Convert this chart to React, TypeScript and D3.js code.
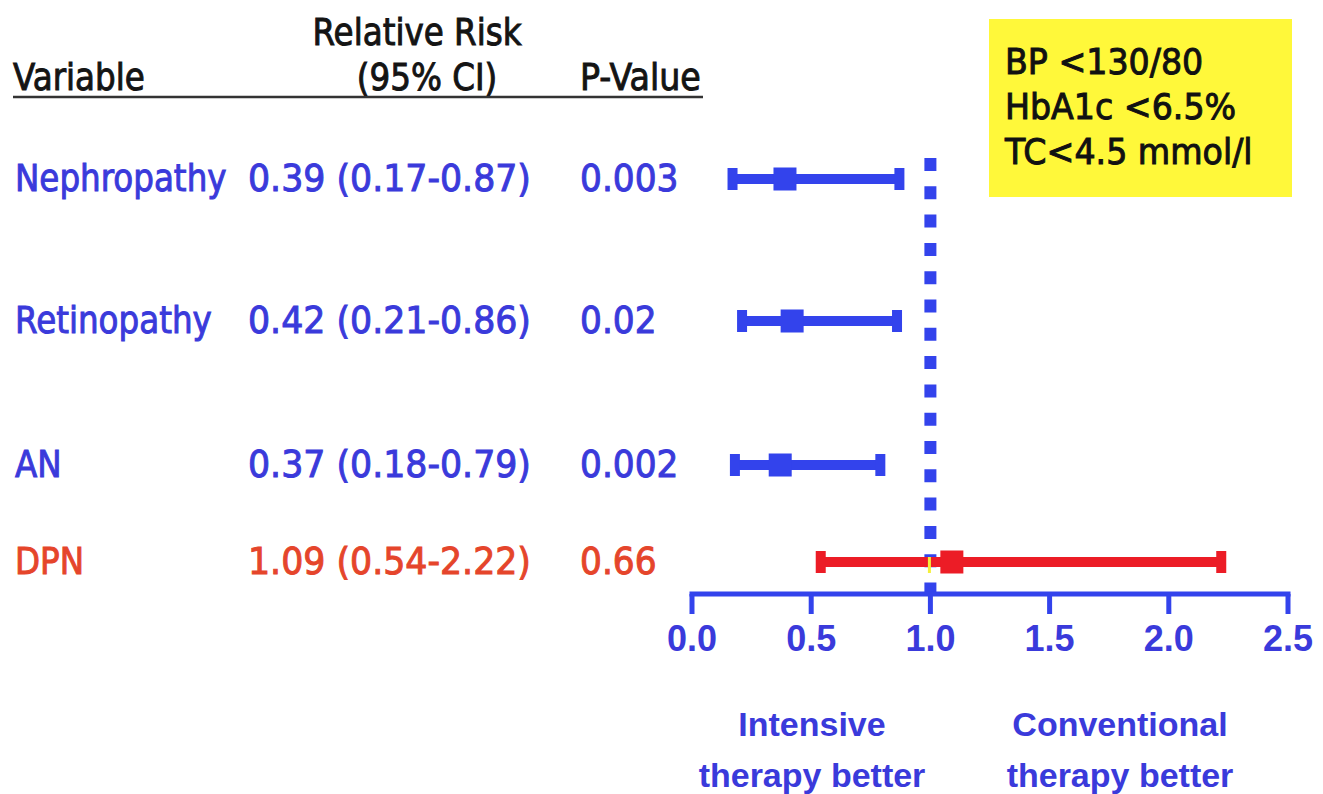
import React from "react";
import * as d3 from "d3";

const variables = ["Nephropathy", "Retinopathy", "AN", "DPN"];
const relativeRisk = [0.39, 0.42, 0.37, 1.09];
const ciLower = [0.17, 0.21, 0.18, 0.54];
const ciUpper = [0.87, 0.86, 0.79, 2.22];
const pValues = ["0.003", "0.02", "0.002", "0.66"];
const xTicks = [0, 0.5, 1.0, 1.5, 2.0, 2.5];
const criteria = ["BP <130/80", "HbA1c <6.5%", "TC<4.5 mmol/l"];
const favourLabels = [
  ["Intensive", "therapy better"],
  ["Conventional", "therapy better"],
];

const W = 1323;
const H = 794;
const BLUE_MARK = "#3343ec";
const BLUE_TEXT = "#3a3adb";
const RED_MARK = "#ec1c26";
const RED_TEXT = "#e5452b";
const TEXT_FONT = "'DejaVu Sans', Verdana, sans-serif";
const AXIS_FONT = "'Liberation Sans', Arial, sans-serif";

function CText(props: {
  x: number;
  y: number;
  sx?: number;
  size: number;
  fill: string;
  anchor?: "start" | "middle" | "end";
  children: React.ReactNode;
}) {
  const { x, y, sx = 0.88, size, fill, anchor = "start", children } = props;
  return (
    <text
      transform={`translate(${x},${y}) scale(${sx},1)`}
      fontFamily={TEXT_FONT}
      fontSize={size}
      fill={fill}
      stroke={fill}
      strokeWidth={1}
      textAnchor={anchor}
    >
      {children}
    </text>
  );
}

export default function App() {
  const x = d3.scaleLinear().domain([0, 2.5]).range([692, 1288]);
  const y = d3.scaleOrdinal<string, number>().domain(variables).range([179, 321, 465, 562]);
  const axisY = 594;
  const isRed = (i: number) => relativeRisk[i] > 1;
  const fmt = d3.format(".2f");

  return (
    <svg width={W} height={H} style={{ position: "absolute", left: 0, top: 0, background: "#fff" }}>
      {/* header */}
      <CText x={417} y={45} size={37} fill="#141414" anchor="middle">Relative Risk</CText>
      <CText x={13} y={90} size={37} fill="#141414">Variable</CText>
      <CText x={427} y={90} size={37} fill="#141414" anchor="middle">(95% CI)</CText>
      <CText x={580} y={90} size={37} fill="#141414" sx={0.9}>P-Value</CText>
      <line x1={13} x2={703} y1={97} y2={97} stroke="#333" strokeWidth={2.5} />

      {/* rows text */}
      {variables.map((v, i) => {
        const col = isRed(i) ? RED_TEXT : BLUE_TEXT;
        const by = y(v) + 12;
        return (
          <g key={v}>
            <CText x={15} y={by} size={37} fill={col}>{v}</CText>
            <CText x={248} y={by} size={37} fill={col} sx={0.94}>
              {`${fmt(relativeRisk[i])} (${fmt(ciLower[i])}-${fmt(ciUpper[i])})`}
            </CText>
            <CText x={580} y={by} size={37} fill={col} sx={0.93}>{pValues[i]}</CText>
          </g>
        );
      })}

      {/* reference line at 1.0 */}
      <line
        x1={x(1)}
        x2={x(1)}
        y1={158}
        y2={axisY}
        stroke={BLUE_MARK}
        strokeWidth={12}
        strokeDasharray="13 15.3"
      />

      {/* error bars */}
      {variables.map((v, i) => {
        const col = isRed(i) ? RED_MARK : BLUE_MARK;
        const cy = y(v);
        return (
          <g key={v}>
            <line x1={x(ciLower[i])} x2={x(ciUpper[i])} y1={cy} y2={cy} stroke={col} strokeWidth={10} />
            <rect x={x(ciLower[i]) - 5} y={cy - 11} width={10} height={22} fill={col} />
            <rect x={x(ciUpper[i]) - 5} y={cy - 11} width={10} height={22} fill={col} />
            <rect x={x(relativeRisk[i]) - 11.5} y={cy - 11.5} width={23} height={23} fill={col} />
            {isRed(i) && ciLower[i] < 1 && (
              <line x1={x(1) - 1} x2={x(1) - 1} y1={cy - 5} y2={cy + 11} stroke="#f4f03a" strokeWidth={3} />
            )}
          </g>
        );
      })}

      {/* axis */}
      <line x1={x(0) - 2.5} x2={x(2.5) + 2.5} y1={axisY} y2={axisY} stroke={BLUE_MARK} strokeWidth={5} />
      {xTicks.map((t) => (
        <g key={t}>
          <line x1={x(t)} x2={x(t)} y1={axisY} y2={axisY + 20} stroke={BLUE_MARK} strokeWidth={5} />
          <text
            x={x(t)}
            y={651}
            textAnchor="middle"
            fontFamily={AXIS_FONT}
            fontWeight="bold"
            fontSize={36}
            fill={BLUE_TEXT}
          >
            {d3.format(".1f")(t)}
          </text>
        </g>
      ))}

      {/* favour labels */}
      <g fontFamily={AXIS_FONT} fontWeight="bold" fontSize={34} fill={BLUE_TEXT} textAnchor="middle">
        {favourLabels.map((lines, k) => (
          <text key={k} x={k === 0 ? 812 : 1120} y={736}>
            {lines.map((ln, j) => (
              <tspan key={j} x={k === 0 ? 812 : 1120} dy={j === 0 ? 0 : 51}>{ln}</tspan>
            ))}
          </text>
        ))}
      </g>

      {/* criteria box */}
      <rect x={989} y={19} width={303} height={178} fill="#fff83a" />
      {criteria.map((c, i) => (
        <CText key={c} x={1005} y={74 + i * 45} size={35} sx={0.95} fill="#111">{c}</CText>
      ))}
    </svg>
  );
}
